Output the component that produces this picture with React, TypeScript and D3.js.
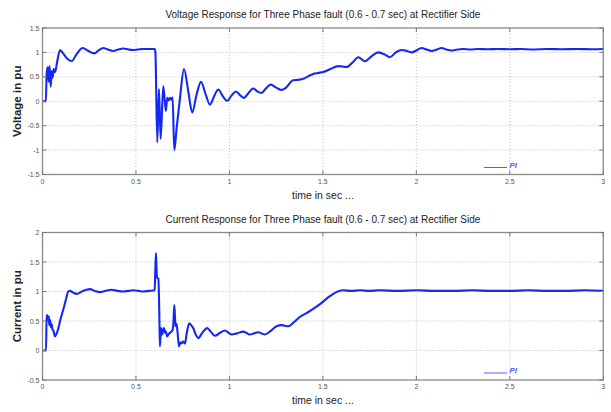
import React from "react";
import * as d3 from "d3";

const voltT = [0, 0.018, 0.022, 0.028, 0.033, 0.038, 0.044, 0.049, 0.054, 0.06, 0.068, 0.078, 0.094, 0.11, 0.13, 0.156, 0.18, 0.215, 0.245, 0.277, 0.3, 0.325, 0.35, 0.379, 0.405, 0.432, 0.46, 0.484, 0.51, 0.54, 0.57, 0.6, 0.604, 0.614, 0.623, 0.632, 0.646, 0.66, 0.667, 0.675, 0.682, 0.69, 0.696, 0.705, 0.718, 0.735, 0.757, 0.78, 0.801, 0.825, 0.848, 0.872, 0.896, 0.918, 0.94, 0.965, 0.988, 1.012, 1.035, 1.058, 1.078, 1.1, 1.127, 1.15, 1.172, 1.195, 1.22, 1.25, 1.279, 1.3, 1.341, 1.37, 1.395, 1.42, 1.448, 1.475, 1.502, 1.54, 1.582, 1.627, 1.66, 1.689, 1.725, 1.76, 1.796, 1.83, 1.858, 1.89, 1.921, 1.95, 1.974, 2.0, 2.028, 2.055, 2.081, 2.11, 2.135, 2.16, 2.188, 2.22, 2.25, 2.29, 2.33, 2.38, 2.44, 2.5, 2.56, 2.62, 2.7, 2.78, 2.86, 2.94, 3.0];
const voltV = [0, 0, 0.55, 0.7, 0.4, 0.72, 0.3, 0.62, 0.48, 0.66, 0.6, 0.8, 1.05, 0.98, 0.88, 0.82, 0.95, 1.09, 1.03, 0.98, 1.04, 1.09, 1.06, 1.03, 1.06, 1.08, 1.06, 1.05, 1.06, 1.07, 1.07, 1.07, 1.0, -0.84, 0.25, -0.77, 0.31, -0.2, 0.07, 0.02, 0.07, 0.03, 0.08, -1.0, -0.53, 0.05, 0.66, 0.2, -0.23, 0.15, 0.4, 0.15, -0.07, 0.1, 0.24, 0.1, 0.01, 0.12, 0.2, 0.12, 0.07, 0.16, 0.26, 0.2, 0.17, 0.26, 0.34, 0.28, 0.23, 0.27, 0.43, 0.44, 0.46, 0.51, 0.56, 0.58, 0.6, 0.66, 0.72, 0.7, 0.8, 0.9, 0.82, 0.92, 1.0, 0.96, 0.9, 1.0, 1.05, 1.03, 1.0, 1.04, 1.09, 1.06, 1.03, 1.06, 1.09, 1.06, 1.04, 1.06, 1.07, 1.06, 1.07, 1.065, 1.07, 1.065, 1.07, 1.06, 1.07, 1.065, 1.07, 1.065, 1.07];

const currT = [0, 0.019, 0.022, 0.027, 0.031, 0.034, 0.036, 0.04, 0.045, 0.049, 0.053, 0.058, 0.067, 0.075, 0.085, 0.098, 0.111, 0.125, 0.138, 0.147, 0.165, 0.183, 0.21, 0.235, 0.254, 0.28, 0.307, 0.335, 0.37, 0.4, 0.432, 0.46, 0.486, 0.515, 0.539, 0.57, 0.6, 0.603, 0.607, 0.611, 0.614, 0.62, 0.625, 0.628, 0.634, 0.64, 0.645, 0.65, 0.655, 0.659, 0.667, 0.675, 0.682, 0.69, 0.696, 0.7, 0.705, 0.709, 0.712, 0.717, 0.721, 0.73, 0.737, 0.744, 0.752, 0.762, 0.772, 0.785, 0.795, 0.806, 0.82, 0.833, 0.855, 0.881, 0.9, 0.922, 0.95, 0.976, 0.995, 1.012, 1.04, 1.074, 1.09, 1.11, 1.13, 1.154, 1.172, 1.19, 1.22, 1.252, 1.28, 1.314, 1.345, 1.377, 1.41, 1.44, 1.49, 1.537, 1.58, 1.61, 1.65, 1.7, 1.75, 1.8, 1.9, 2.0, 2.1, 2.2, 2.3, 2.4, 2.5, 2.6, 2.7, 2.8, 2.9, 3.0];
const currV = [0, 0, 0.6, 0.58, 0.5, 0.58, 0.43, 0.52, 0.4, 0.45, 0.36, 0.34, 0.24, 0.28, 0.38, 0.55, 0.69, 0.86, 1.0, 1.01, 0.98, 0.96, 1.0, 1.03, 1.04, 1.01, 0.99, 1.01, 1.03, 1.01, 1.0, 1.01, 1.02, 1.01, 1.0, 1.01, 1.02, 1.3, 1.65, 1.3, 1.23, 1.22, 0.6, 0.07, 0.38, 0.27, 0.35, 0.38, 0.3, 0.33, 0.24, 0.28, 0.3, 0.32, 0.35, 0.45, 0.77, 0.55, 0.41, 0.45, 0.36, 0.07, 0.14, 0.12, 0.15, 0.12, 0.3, 0.46, 0.43, 0.38, 0.27, 0.21, 0.3, 0.38, 0.32, 0.25, 0.3, 0.34, 0.3, 0.27, 0.29, 0.32, 0.3, 0.27, 0.29, 0.31, 0.29, 0.27, 0.33, 0.41, 0.43, 0.41, 0.48, 0.57, 0.63, 0.69, 0.8, 0.92, 1.0, 1.02, 1.01, 1.02, 1.01, 1.02, 1.01, 1.02, 1.01, 1.01, 1.02, 1.01, 1.01, 1.02, 1.01, 1.01, 1.02, 1.01];

const xTicks = [0, 0.5, 1, 1.5, 2, 2.5, 3];
const xTickLabels = ["0", "0.5", "1", "1.5", "2", "2.5", "3"];
const voltTicks = [-1.5, -1, -0.5, 0, 0.5, 1, 1.5];
const voltTickLabels = ["-1.5", "-1", "-0.5", "0", "0.5", "1", "1.5"];
const currTicks = [-0.5, 0, 0.5, 1, 1.5, 2];
const currTickLabels = ["-0.5", "0", "0.5", "1", "1.5", "2"];

const titles = [
  "Voltage Response for Three Phase fault (0.6 - 0.7 sec) at Rectifier Side",
  "Current Response for Three Phase fault (0.6 - 0.7 sec) at Rectifier Side",
];
const yLabels = ["Voltage in pu", "Current in pu"];
const xLabel = "time in sec ...";
const legendLabel = "PI";

const FONT = "'Liberation Sans', Arial, sans-serif";
const LINE = "#1428f5";

type PanelProps = {
  t: number[];
  v: number[];
  yDomain: [number, number];
  yTicks: number[];
  yTickLabels: string[];
  top: number;
  bottom: number;
  title: string;
  yLabel: string;
};

function Panel({ t, v, yDomain, yTicks, yTickLabels, top, bottom, title, yLabel }: PanelProps) {
  const left = 42.5;
  const right = 603.3;
  const x = d3.scaleLinear().domain([0, 3]).range([left, right]);
  const y = d3.scaleLinear().domain(yDomain).range([bottom, top]);
  const pts = t.map((tt, i) => [tt, v[i]] as [number, number]);
  const line = d3
    .line<[number, number]>()
    .x((d) => x(d[0]))
    .y((d) => y(d[1]))
    .curve(d3.curveMonotoneX);
  const tl = 4;
  return (
    <g>
      <text x={(left + right) / 2} y={top - 10} textAnchor="middle" fontFamily={FONT} fontSize={10} fill="#222">
        {title}
      </text>
      {xTicks.slice(1, -1).map((d) => (
        <line key={"gx" + d} x1={x(d)} x2={x(d)} y1={top} y2={bottom} stroke="#b8b8b8" strokeWidth={0.9} strokeDasharray="1,2" />
      ))}
      {yTicks.slice(1, -1).map((d) => (
        <line key={"gy" + d} x1={left} x2={right} y1={y(d)} y2={y(d)} stroke="#b8b8b8" strokeWidth={0.9} strokeDasharray="1,2" />
      ))}
      <path d={line(pts) || ""} fill="none" stroke={LINE} strokeWidth={2.1} strokeLinejoin="round" />
      <rect x={left} y={top} width={right - left} height={bottom - top} fill="none" stroke="#8a8a8a" strokeWidth={1.3} />
      {xTicks.map((d) => (
        <g key={"tx" + d}>
          <line x1={x(d)} x2={x(d)} y1={bottom} y2={bottom - tl} stroke="#777" strokeWidth={1} />
          <line x1={x(d)} x2={x(d)} y1={top} y2={top + tl} stroke="#777" strokeWidth={1} />
        </g>
      ))}
      {yTicks.map((d) => (
        <g key={"ty" + d}>
          <line x1={left} x2={left + tl} y1={y(d)} y2={y(d)} stroke="#777" strokeWidth={1} />
          <line x1={right} x2={right - tl} y1={y(d)} y2={y(d)} stroke="#777" strokeWidth={1} />
        </g>
      ))}
      {xTicks.map((d, i) => (
        <text key={"lx" + d} x={x(d)} y={bottom + 9} textAnchor="middle" fontFamily={FONT} fontSize={7} fill="#555">
          {xTickLabels[i]}
        </text>
      ))}
      {yTicks.map((d, i) => (
        <text key={"ly" + d} x={left - 3} y={y(d) + 2.5} textAnchor="end" fontFamily={FONT} fontSize={7} fill="#555">
          {yTickLabels[i]}
        </text>
      ))}
      <text x={(left + right) / 2} y={bottom + 24} textAnchor="middle" fontFamily={FONT} fontSize={10.5} fill="#222">
        {xLabel}
      </text>
      <text
        transform={`translate(21,${(top + bottom) / 2}) rotate(-90)`}
        textAnchor="middle"
        fontFamily={FONT}
        fontSize={11.5}
        fontWeight="bold"
        fill="#222"
      >
        {yLabel}
      </text>
      <line x1={484} x2={507} y1={bottom - 7} y2={bottom - 7} stroke="#5a5aff" strokeWidth={1} />
      <text x={509.5} y={bottom - 7} fontFamily={FONT} fontSize={8} fontStyle="italic" fontWeight="bold" fill="#5a5aff">
        {legendLabel}
      </text>
    </g>
  );
}

export default function App() {
  return (
    <svg width={611} height={412} style={{ position: "absolute", left: 0, top: 0, background: "#fff" }}>
      <rect width={611} height={412} fill="#fff" />
      <Panel
        t={voltT}
        v={voltV}
        yDomain={[-1.5, 1.5]}
        yTicks={voltTicks}
        yTickLabels={voltTickLabels}
        top={28}
        bottom={174.5}
        title={titles[0]}
        yLabel={yLabels[0]}
      />
      <Panel
        t={currT}
        v={currV}
        yDomain={[-0.5, 2]}
        yTicks={currTicks}
        yTickLabels={currTickLabels}
        top={232.5}
        bottom={380}
        title={titles[1]}
        yLabel={yLabels[1]}
      />
    </svg>
  );
}
